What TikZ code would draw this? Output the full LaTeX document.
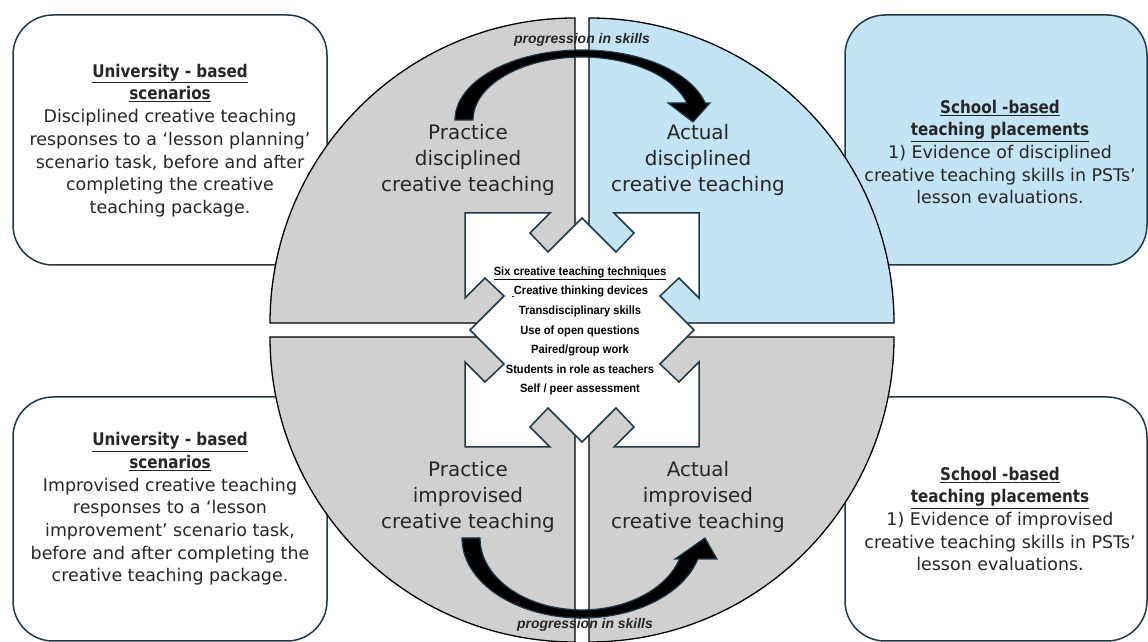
\documentclass[tikz,border=0pt]{standalone}
\usepackage{fontspec}
\setmainfont{DejaVu Sans}[BoldFeatures={FakeStretch=0.87}]
\newfontfamily\condfont[FakeStretch=0.93]{Liberation Sans}
\newfontfamily\skillfont{Liberation Sans}
\usepackage{tikz}
\usetikzlibrary{positioning}
\usetikzlibrary{calc}
\definecolor{quadgray}{HTML}{D0D0D0}
\definecolor{quadblue}{HTML}{C2E4F4}
\definecolor{edgeteal}{HTML}{1E3A4A}

\begin{document}
\begin{tikzpicture}[x=1bp,y=1bp,
  boxstyle/.style={draw=edgeteal, line width=1.5bp, rounded corners=40bp},
  quadstyle/.style={draw=black, line width=1.3bp},
  labeltext/.style={align=center, text=black!85, font=\fontsize{20}{26.5}\selectfont},
  boxtext/.style={align=center, text=black!85, font=\fontsize{17.5}{22.8}\selectfont},
  skilltext/.style={text=black!85, font=\skillfont\fontsize{14}{16}\selectfont\bfseries\itshape},
  blockarrow/.style={fill=black, draw=edgeteal, line width=1.2bp}]
\useasboundingbox (0,0) rectangle (1148,642);

%% side boxes
\draw[boxstyle, fill=white]    (13,377) rectangle (327,627);
\draw[boxstyle, fill=quadblue] (845,377) rectangle (1147,627);
\draw[boxstyle, fill=white]    (13,1) rectangle (327,245);
\draw[boxstyle, fill=white]    (845,1) rectangle (1147,245);

%% four quadrants
\draw[quadstyle, fill=quadgray] (575,319) -- ++(-305,0) arc[start angle=180, end angle=90, radius=305] -- cycle;
\draw[quadstyle, fill=quadblue] (589,319) -- ++(0,305) arc[start angle=90, end angle=0, radius=305] -- cycle;
\draw[quadstyle, fill=quadgray] (575,305) -- ++(0,-305) arc[start angle=270, end angle=180, radius=305] -- cycle;
\draw[quadstyle, fill=quadgray] (589,305) -- ++(305,0) arc[start angle=0, end angle=-90, radius=305] -- cycle;

%% centre piece
\begin{scope}[shift={(582,312)}]
\draw[draw=edgeteal, line width=1.5bp, fill=white]
  (-117,117) -- (-32,117) -- (-52,97) -- (-34,78) -- (0,112) -- (34,78) -- (52,97) -- (32,117)
  -- (117,117) -- (117,32) -- (97,52) -- (78,34) -- (112,0) -- (78,-34) -- (97,-52) -- (117,-32)
  -- (117,-117) -- (32,-117) -- (52,-97) -- (34,-78) -- (0,-112) -- (-34,-78) -- (-52,-97) -- (-32,-117)
  -- (-117,-117) -- (-117,-32) -- (-97,-52) -- (-78,-34) -- (-112,0) -- (-78,34) -- (-97,52) -- (-117,32) -- cycle;
\end{scope}

%% quadrant labels
\node[labeltext] (pracdisc) at (468,482) {Practice\\disciplined\\creative teaching};
\node[labeltext] (actdisc)  at (698,482) {Actual\\disciplined\\creative teaching};
\node[labeltext] (pracimpr) at (468,145) {Practice\\improvised\\creative teaching};
\node[labeltext] (actimpr)  at (698,145) {Actual\\improvised\\creative teaching};

%% box texts
\node[boxtext] (unidisc) at (170,501.5) {\underline{\textbf{University - based}}\\\underline{\textbf{scenarios}}\\Disciplined creative teaching\\responses to a ‘lesson planning’\\scenario task, before and after\\completing the creative\\teaching package.};
\node[boxtext] (schdisc) at (1000,490) {\underline{\textbf{School -based}}\\\underline{\textbf{teaching placements}}\\1) Evidence of disciplined\\creative teaching skills in PSTs’\\lesson evaluations.};
\node[boxtext] (uniimpr) at (170,133) {\underline{\textbf{University - based}}\\\underline{\textbf{scenarios}}\\Improvised creative teaching\\responses to a ‘lesson\\improvement’ scenario task,\\before and after completing the\\creative teaching package.};
\node[boxtext] (schimpr) at (1000,123) {\underline{\textbf{School -based}}\\\underline{\textbf{teaching placements}}\\1) Evidence of improvised\\creative teaching skills in PSTs’\\lesson evaluations.};

%% progression arrows
\draw[blockarrow] (455,522) arc[start angle=180, end angle=14, x radius=127, y radius=70]
  -- (710,539) -- (693,520) -- (668,539) -- (686.9,539)
  arc[start angle=15.7, end angle=180, x radius=109, y radius=63] -- cycle;
\draw[blockarrow] (462,104) arc[start angle=180, end angle=344.8, x radius=120, y radius=80]
  -- (717,83) -- (705,104) -- (675,83) -- (679.5,83)
  arc[start angle=343, end angle=180, x radius=102, y radius=72] -- cycle;
\node[skilltext] (progtop) at (582,602) {progression in skills};
\node[skilltext] (progbot) at (585,17) {progression in skills};

%% techniques
\node[align=center, font=\condfont\fontsize{12}{19.7}\selectfont\bfseries] (techniques) at (580,311)
  {\underline{Six creative teaching techniques}\\\underline{\,}Creative thinking devices\\Transdisciplinary skills\\Use of open questions\\Paired/group work\\Students in role as teachers\\Self / peer assessment};
\end{tikzpicture}
\end{document}
